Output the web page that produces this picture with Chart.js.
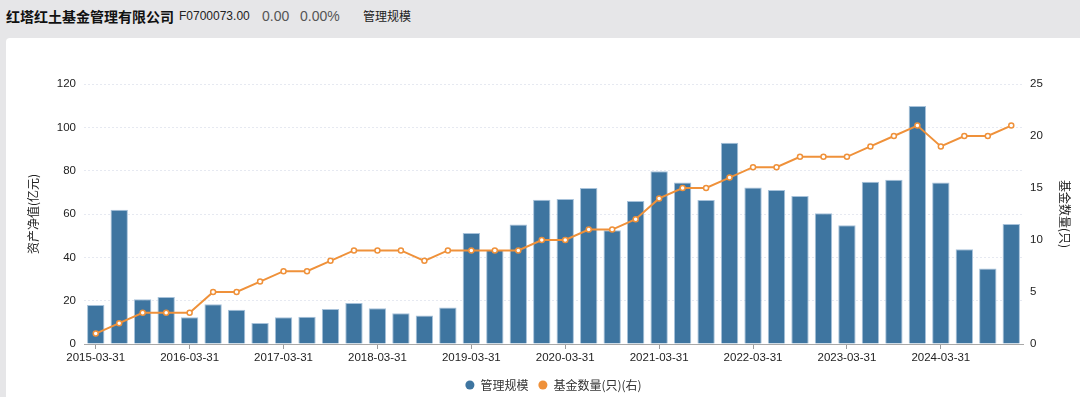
<!DOCTYPE html>
<html>
<head>
<meta charset="utf-8">
<script src="https://cdn.jsdelivr.net/npm/chart.js@4/dist/chart.umd.min.js"></script>
<style>
  html, body { margin: 0; padding: 0; }
  body {
    width: 1080px; height: 397px; overflow: hidden;
    background: #e6e6e8;
    font-family: "Liberation Sans", "Noto Sans CJK SC", sans-serif;
    position: relative;
  }
  .hdr span { position: absolute; top: 7px; line-height: 18px; white-space: nowrap; }
  .hdr .name { left: 6px; font-size: 14px; font-weight: bold; color: #111; font-family: "Noto Sans CJK SC", sans-serif; }
  .hdr .code { left: 179px; font-size: 12px; color: #222; }
  .hdr .num { font-size: 14px; color: #555; }
  .hdr .tab { left: 363px; font-size: 12px; color: #222; font-family: "Noto Sans CJK SC", sans-serif; }
  .panel {
    position: absolute; left: 6px; top: 38px; width: 1074px; height: 359px;
    background: #fff; border-radius: 4px 0 0 0; overflow: hidden;
  }
  .panel canvas { position: absolute; left: 0; top: 0; }
</style>
</head>
<body>
<div class="hdr">
  <span class="name">红塔红土基金管理有限公司</span>
  <span class="code">F0700073.00</span>
  <span class="num" style="left:262px">0.00</span>
  <span class="num" style="left:300px">0.00%</span>
  <span class="tab">管理规模</span>
</div>
<div class="panel">
  <div style="position:absolute;left:0;top:0;width:1074px;height:363px;">
    <canvas id="chart"></canvas>
  </div>
</div>
<script>
// ===== DATA =====
const years = ['2015', '2016', '2017', '2018', '2019', '2020', '2021', '2022', '2023', '2024'];
const quarterEnds = ['03-31', '06-30', '09-30', '12-31'];
const dates = [];
years.forEach(y => quarterEnds.forEach(q => dates.push(y + '-' + q)));

// 管理规模 (亿元)
const scaleValues = [
  18, 62, 20.6, 21.7,
  12.3, 18.3, 15.8, 9.7,
  12.3, 12.6, 16.2, 18.9,
  16.5, 14.2, 13.2, 16.8,
  51.2, 43.4, 55.2, 66.6,
  66.9, 72, 52.5, 66,
  79.7, 74.5, 66.5, 92.9,
  72.2, 71.1, 68.3, 60.3,
  54.8, 74.9, 75.8, 109.8,
  74.5, 43.7, 34.8, 55.4
];

// 基金数量 (只)
const fundCounts = [
  1, 2, 3, 3,
  3, 5, 5, 6,
  7, 7, 8, 9,
  9, 9, 8, 9,
  9, 9, 9, 10,
  10, 11, 11, 12,
  14, 15, 15, 16,
  17, 17, 18, 18,
  18, 19, 20, 21,
  19, 20, 20, 21
];

const leftTicks = [0, 20, 40, 60, 80, 100, 120];
const rightTicks = [0, 5, 10, 15, 20, 25];

// ===== STYLE =====
const BLUE = '#3e75a0';
const ORANGE = '#ef913a';
const FONT = '"Liberation Sans", "Noto Sans CJK SC", sans-serif';
const CJK = '"Noto Sans CJK SC", "Liberation Sans", sans-serif';

const ctx = document.getElementById('chart').getContext('2d');

new Chart(ctx, {
  data: {
    labels: dates,
    datasets: [
      {
        type: 'line',
        label: '基金数量(只)(右)',
        data: fundCounts,
        yAxisID: 'y1',
        borderColor: ORANGE,
        borderWidth: 2,
        backgroundColor: '#fff',
        pointBackgroundColor: '#fff',
        pointBorderColor: ORANGE,
        pointBorderWidth: 1.5,
        pointRadius: 2.5,
        tension: 0,
        order: 0
      },
      {
        type: 'bar',
        label: '管理规模',
        data: scaleValues,
        yAxisID: 'y',
        backgroundColor: BLUE,
        borderColor: '#a7c2da',
        borderWidth: 1,
        barPercentage: 0.74,
        categoryPercentage: 1,
        order: 1
      }
    ]
  },
  options: {
    responsive: true,
    maintainAspectRatio: false,
    animation: false,
    layout: { padding: { top: 46, left: 0, right: 0, bottom: 0 } },
    plugins: {
      tooltip: { enabled: false },
      legend: {
        position: 'bottom',
        fullSize: false,
        reverse: true,
        labels: {
          usePointStyle: true,
          boxWidth: 9,
          boxHeight: 6.4,
          padding: 10,
          color: '#333',
          font: { size: 12, family: CJK },
          generateLabels: chart => chart.data.datasets.map((ds, i) => ({
            text: ds.label,
            fillStyle: ds.type === 'bar' ? BLUE : ORANGE,
            strokeStyle: ds.type === 'bar' ? BLUE : ORANGE,
            lineWidth: 0,
            pointStyle: 'circle',
            fontColor: '#333',
            datasetIndex: i
          }))
        }
      }
    },
    scales: {
      x: {
        offset: true,
        grid: {
          offset: false,
          drawOnChartArea: false,
          drawTicks: true,
          tickLength: 5,
          tickColor: c => (c.index % 4 === 0 ? '#9a9a9a' : 'transparent')
        },
        border: { display: true, color: '#a8a8a8', width: 1 },
        ticks: {
          autoSkip: false,
          maxRotation: 0,
          padding: 2,
          color: '#222',
          font: { size: 11.5, family: FONT },
          callback: (v, i) => (i % 4 === 0 ? dates[i] : '')
        },
        afterFit: s => { s.height = 25; }
      },
      y: {
        position: 'left',
        min: 0,
        max: 120,
        afterBuildTicks: s => { s.ticks = leftTicks.map(v => ({ value: v })); },
        grid: { color: '#e6e9f1', drawTicks: false },
        border: { display: false, dash: [2, 2] },
        ticks: { padding: 8, color: '#222', font: { size: 11.5, family: FONT } },
        title: {
          display: true,
          text: '资产净值(亿元)',
          color: '#222',
          font: { size: 12, family: CJK },
          padding: { top: 20, bottom: 0 }
        },
        afterFit: s => { s.width = 78; }
      },
      y1: {
        position: 'right',
        min: 0,
        max: 25,
        afterBuildTicks: s => { s.ticks = rightTicks.map(v => ({ value: v })); },
        grid: { drawOnChartArea: false, drawTicks: false },
        border: { display: false },
        ticks: { padding: 7, color: '#222', font: { size: 11.5, family: FONT } },
        title: {
          display: true,
          text: '基金数量(只)',
          color: '#222',
          font: { size: 12, family: CJK },
          padding: { top: 8, bottom: 0 }
        },
        afterFit: s => { s.width = 57; }
      }
    }
  }
});
</script>
</body>
</html>
